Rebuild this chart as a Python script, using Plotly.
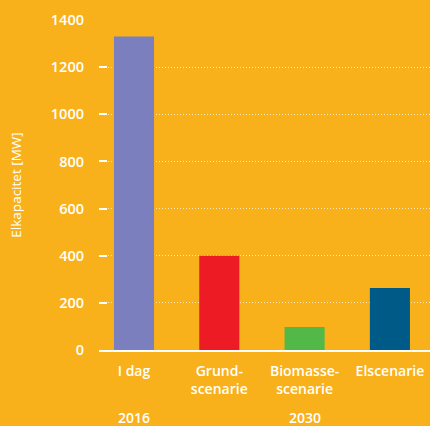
import plotly.graph_objects as go

categories = ["I dag", "Grund-<br>scenarie", "Biomasse-<br>scenarie", "Elscenarie"]
values = [1330, 400, 98, 263]
colors = ["#7B7FBD", "#ED1C24", "#52B848", "#005A87"]
years = ["2016", "2030"]
year_pos = [0, 2]
yticks = [0, 200, 400, 600, 800, 1000, 1200, 1400]

BG = "#F9B11B"
FONT = "Open Sans"

fig = go.Figure()
fig.add_trace(go.Bar(
    x=list(range(len(categories))), y=values,
    marker=dict(color=colors, line=dict(width=0)),
    width=0.47,
))

for y, p in zip(years, year_pos):
    fig.add_annotation(x=p, y=-0.205, xref="x", yref="paper", text=y, showarrow=False,
                       font=dict(family=FONT, size=14, color="white", weight=600),
                       yanchor="middle")

fig.update_layout(
    width=430, height=426,
    margin=dict(l=99, r=0, t=20, b=76),
    paper_bgcolor=BG, plot_bgcolor=BG,
    showlegend=False,
    font=dict(family=FONT, color="white"),
    xaxis=dict(
        range=[-0.41, 3.47],
        tickvals=list(range(len(categories))), ticktext=categories,
        tickfont=dict(family=FONT, size=14, color="white", weight=600),
        showgrid=False, zeroline=False,
        showline=True, linecolor="white", linewidth=1.5,
        ticks="", ticklabelstandoff=7,
    ),
    yaxis=dict(
        range=[0, 1400],
        tickvals=yticks,
        tickfont=dict(family=FONT, size=14.5, color="white", weight=600),
        showgrid=True, gridcolor="rgba(255,255,255,0.7)", gridwidth=1, griddash="1px,2px",
        zeroline=False,
        ticks="inside", ticklen=8, tickcolor="white", tickwidth=1.5,
        ticklabelstandoff=14,
        title=dict(text="Elkapacitet [MW]", font=dict(family=FONT, size=13.5, color="white"), standoff=26),
    ),
)

fig.write_html("out.html")
